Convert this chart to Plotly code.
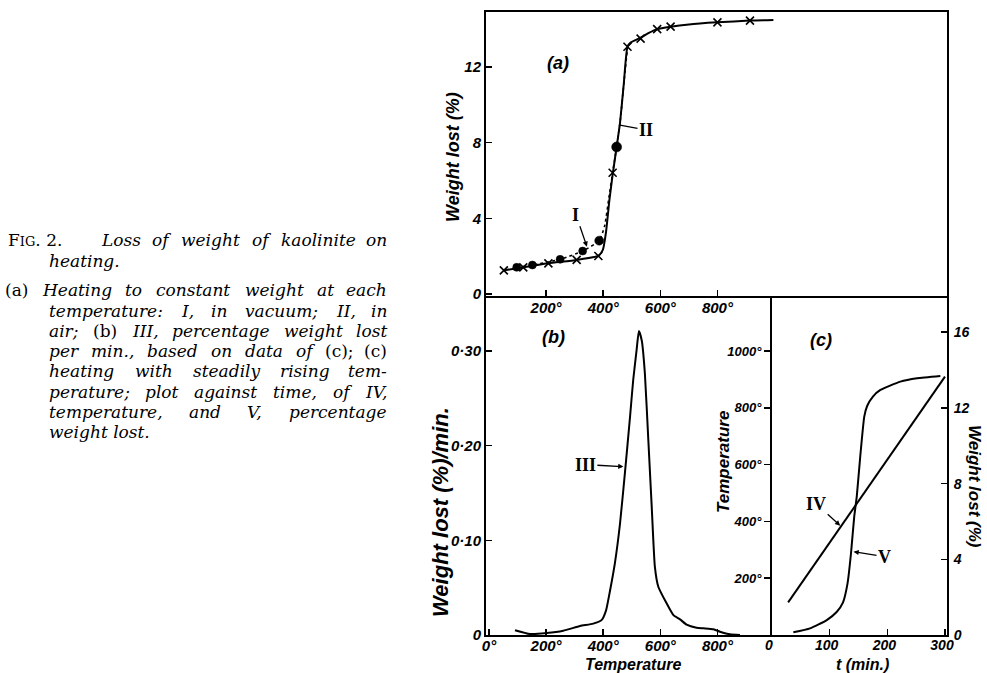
import plotly.graph_objects as go

W, H = 987, 673

# ---------------- data ----------------
# Panel (a): weight lost (%) vs temperature (deg C)
ii_line_T = [52, 120, 208, 307, 383, 399, 410, 422, 434, 447, 459, 472, 485, 497, 531, 560, 589, 636, 700, 800, 914, 996]
ii_line_w = [1.25, 1.41, 1.62, 1.80, 2.01, 2.35, 3.3, 5.0, 6.41, 7.77, 9.07, 11.1, 13.07, 13.3, 13.55, 13.8, 14.0, 14.13, 14.25, 14.36, 14.45, 14.48]
ii_mark_T = [52, 120, 208, 307, 383, 433, 485, 531, 589, 636, 800, 914]
ii_mark_w = [1.25, 1.41, 1.62, 1.80, 2.01, 6.41, 13.07, 13.5, 14.0, 14.13, 14.36, 14.45]

i_line_T = [97, 152, 249, 328, 386, 405, 420, 434, 447, 460, 472, 485]
i_line_w = [1.41, 1.53, 1.83, 2.27, 2.82, 3.6, 5.1, 6.5, 7.77, 9.2, 11.1, 13.0]
i_mark_T = [97, 152, 249, 328, 386, 447]
i_mark_w = [1.41, 1.53, 1.83, 2.27, 2.82, 7.77]

# Panel (b): weight lost (%)/min vs temperature
iii_T = [91, 144, 202, 260, 319, 365, 395, 410, 424, 441, 459, 476, 494, 505, 517, 525, 535, 546, 558, 570, 581, 593, 622, 646, 669, 692, 727, 751, 786, 809, 844, 879]
iii_r = [0.005, 0.001, 0.002, 0.0045, 0.0095, 0.012, 0.016, 0.026, 0.047, 0.076, 0.118, 0.171, 0.2305, 0.269, 0.301, 0.321, 0.311, 0.276, 0.206, 0.135, 0.072, 0.051, 0.0335, 0.021, 0.0165, 0.011, 0.0077, 0.007, 0.006, 0.0035, 0.0007, 0.0]

# Panel (c): temperature (IV) and weight lost (V) vs time (min)
iv_t = [28, 300]
iv_T = [115, 910]
v_t = [37, 66, 95, 112.5, 123, 131, 137, 142.6, 147, 153, 160, 165, 175, 188, 222.6, 251.6, 292]
v_w = [0.14, 0.35, 0.79, 1.23, 1.71, 2.73, 4.32, 6.25, 7.31, 9.42, 11.54, 12.1, 12.6, 12.95, 13.39, 13.57, 13.69]

a_xticks = [200, 400, 600, 800]
a_yticks = [0, 4, 8, 12]
b_xticks = [0, 200, 400, 600, 800]
b_yticks = [0, 0.1, 0.2, 0.3]
b_ylabels = ["0", "0·10", "0·20", "0·30"]
c_xticks = [0, 100, 200, 300]
c_Tticks = [200, 400, 600, 800, 1000]
c_wticks = [0, 4, 8, 12, 16]

# ---------------- helpers ----------------
def PX(x):
    return x / W

def PY(y):
    return 1 - y / H

LBL = dict(family="Liberation Sans", size=15, color="black", weight="bold", style="italic")
TTL = dict(family="Liberation Sans", size=18, color="black", weight="bold", style="italic")
ROM = dict(family="Liberation Serif", size=18, color="black", weight="bold")

fig = go.Figure()
blk = "black"

# panel (a)
fig.add_trace(go.Scatter(x=ii_line_T, y=ii_line_w, mode="lines",
                         line=dict(color=blk, width=2, shape="spline", smoothing=0.5),
                         xaxis="x", yaxis="y", showlegend=False, hoverinfo="skip"))
fig.add_trace(go.Scatter(x=i_line_T, y=i_line_w, mode="lines",
                         line=dict(color=blk, width=1.6, dash="dot", shape="spline", smoothing=0.5),
                         xaxis="x", yaxis="y", showlegend=False, hoverinfo="skip"))
fig.add_trace(go.Scatter(x=ii_mark_T, y=ii_mark_w, mode="markers",
                         marker=dict(symbol="x-thin", size=8, color=blk, line=dict(color=blk, width=1.6)),
                         xaxis="x", yaxis="y", showlegend=False))
fig.add_trace(go.Scatter(x=i_mark_T, y=i_mark_w, mode="markers",
                         marker=dict(symbol="circle", size=[8, 8, 8, 8, 9, 10], color=blk, opacity=1,
                                     line=dict(color=blk, width=0.5)),
                         xaxis="x", yaxis="y", showlegend=False))
# panel (b)
fig.add_trace(go.Scatter(x=iii_T, y=iii_r, mode="lines",
                         line=dict(color=blk, width=2, shape="spline", smoothing=0.5),
                         xaxis="x2", yaxis="y2", showlegend=False))
# panel (c)
fig.add_trace(go.Scatter(x=iv_t, y=iv_T, mode="lines", line=dict(color=blk, width=2),
                         xaxis="x3", yaxis="y3", showlegend=False))
fig.add_trace(go.Scatter(x=v_t, y=v_w, mode="lines",
                         line=dict(color=blk, width=2, shape="spline", smoothing=0.5),
                         xaxis="x3", yaxis="y4", showlegend=False))

common = dict(showline=True, linecolor=blk, linewidth=2, showgrid=False, zeroline=False,
              tickcolor=blk, tickwidth=1.5, ticklen=6, tickfont=LBL)

fig.update_layout(
    template="none",
    width=W, height=H, autosize=False,
    margin=dict(l=0, r=0, t=0, b=0),
    paper_bgcolor="white", plot_bgcolor="white",
    xaxis=dict(domain=[PX(486), PX(947)], range=[-10.5, 1604], anchor="y", mirror=True,
               ticks="inside", tickvals=a_xticks, ticktext=[f"{v}°" for v in a_xticks],
               ticklabelstandoff=-3, **common),
    yaxis=dict(domain=[PY(295.5), PY(12)], range=[-0.08, 14.905], anchor="x", mirror=True,
               ticks="inside", tickvals=a_yticks, ticktext=[str(v) for v in a_yticks], **common),
    xaxis2=dict(domain=[PX(486), PX(772)], range=[-10.5, 991.2], anchor="y2",
                ticks="inside", tickvals=b_xticks, ticktext=[f"{v}°" for v in b_xticks],
                ticklabelstandoff=-4, **common),
    yaxis2=dict(domain=[PY(635), PY(295.5)], range=[0, 0.3585], anchor="x2",
                ticks="inside", tickvals=b_yticks, ticktext=b_ylabels, **common),
    xaxis3=dict(domain=[PX(772), PX(947)], range=[0, 303.5], anchor="y3", mirror=False,
                ticks="inside", tickvals=c_xticks, ticktext=[str(v) for v in c_xticks],
                ticklabelstandoff=-4, ticklabelshift=-3,
                **dict(common, tickfont=dict(LBL, size=14))),
    yaxis3=dict(domain=[PY(635), PY(295.5)], range=[0, 1196], anchor="x3", side="left",
                ticks="outside", tickvals=c_Tticks, ticktext=[f"{v}°" for v in c_Tticks],
                **dict(common, tickfont=dict(LBL, size=13))),
    yaxis4=dict(range=[0, 17.94], anchor="x3", overlaying="y3", side="right",
                ticks="inside", tickvals=c_wticks, ticktext=[str(v) for v in c_wticks],
                ticklabelstandoff=2,
                **dict(common, tickfont=dict(LBL, size=14))),
)

ann = []

def txt(x, y, s, font, angle=0, xanchor="center", yanchor="middle", pad=1):
    ann.append(dict(x=PX(x), y=PY(y), xref="paper", yref="paper", text=s, showarrow=False,
                    font=font, textangle=angle, xanchor=xanchor, yanchor=yanchor, borderpad=pad))

# axis titles
txt(453, 157, "Weight lost (%)", TTL, -90)
txt(440, 512, "Weight lost (%)/min.", dict(TTL, size=22), -90)
txt(723, 462, "Temperature", dict(TTL, size=17), -90)
txt(975, 486, "Weight lost (%)", dict(TTL, size=17), 90)
txt(633, 664, "Temperature", dict(TTL, size=16), pad=0)
txt(862, 664, "t (min.)", dict(TTL, size=16), pad=0)
# panel letters
txt(558, 63, "(a)", TTL)
txt(553, 337, "(b)", TTL)
txt(821, 340, "(c)", TTL)

# labelled pointers
def ptr(x, y, xr, yr, s, ax, ay, head=2):
    ann.append(dict(x=x, y=y, xref=xr, yref=yr, text=s, showarrow=True, ax=ax, ay=ay,
                    arrowhead=head, arrowsize=0.8, arrowwidth=1.3, arrowcolor=blk, font=ROM,
                    standoff=0))

ptr(343, 2.5, "x", "y", "I", -11, -32)
ptr(458.8, 8.93, "x", "y", "II", 26, 5, head=0)
ptr(470.7, 0.1778, "x2", "y2", "III", -38, -2)
ptr(118.3, 385, "x3", "y3", "IV", -24, -22)
ptr(141.4, 4.40, "x3", "y4", "V", 31, 5)

# ---------------- caption (justified word by word) ----------------
CAP = 17
CF = dict(family="DejaVu Serif", size=CAP, color="black")
DJ = {" ": .318, "a": .596, "b": .640, "c": .560, "d": .640, "e": .592, "f": .368, "g": .640,
      "h": .644, "i": .320, "j": .306, "k": .617, "l": .320, "m": .952, "n": .644, "o": .602,
      "p": .640, "q": .640, "r": .478, "s": .513, "t": .402, "u": .644, "v": .570, "w": .855,
      "x": .569, "y": .570, "z": .525, ",": .318, ".": .318, ";": .337, ":": .337, "-": .338,
      "(": .390, ")": .390, "I": .394, "V": .722, "H": .865, "L": .686}

def wid(s):
    return sum(DJ.get(c, .6) for c in s) * CAP

def line(y, xl, xr, words):
    if xr is None:
        s = " ".join((f"<i>{w}</i>" if it else w) for w, it in words)
        txt(xl, y, s, CF, xanchor="left", pad=0)
        return
    widths = [wid(w) for w, it in words]
    gap = (xr - xl - sum(widths)) / (len(words) - 1)
    x = xl
    n = len(words)
    for k, ((w, it), ww) in enumerate(zip(words, widths)):
        s = f"<i>{w}</i>" if it else w
        if k == n - 1:
            txt(xr, y, s, CF, xanchor="right", pad=0)
        else:
            txt(x, y, s, CF, xanchor="left", pad=0)
        x += ww + gap

def I(s):
    return [(w, True) for w in s.split()]

txt(7, 240, "F<span style='font-size:13px'>IG</span>. 2.", CF, xanchor="left", pad=0)
line(240, 100, 388, I("Loss of weight of kaolinite on"))
line(261, 48, None, I("heating."))
line(290, 4, 388, [("(a)", False)] + I("Heating to constant weight at each"))
line(311, 48, 388, I("temperature: I, in vacuum; II, in"))
line(331, 48, 388, I("air;") + [("(b)", False)] + I("III, percentage weight lost"))
line(351, 48, 388, I("per min., based on data of") + [("(c);", False), ("(c)", False)])
line(371, 48, 388, I("heating with steadily rising tem-"))
line(392, 48, 388, I("perature; plot against time, of IV,"))
line(412, 48, 388, I("temperature, and V, percentage"))
line(432, 48, None, I("weight lost."))

fig.update_layout(annotations=ann)
fig.write_html("out.html",
               config={"displayModeBar": False, "staticPlot": True},
               post_script="document.body.style.margin='0px';document.body.style.padding='0px';")
